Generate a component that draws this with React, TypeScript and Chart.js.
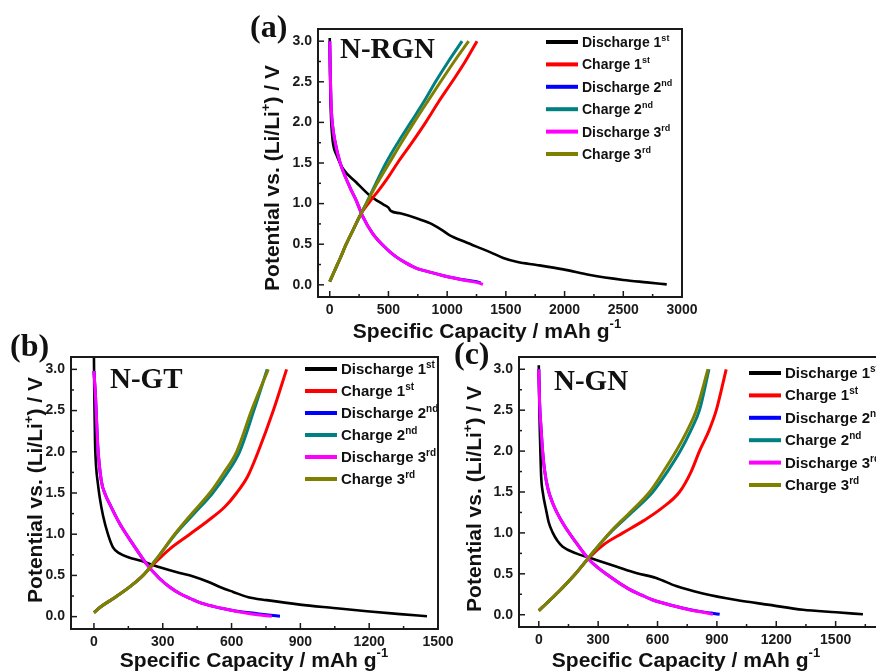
import React, { useEffect, useRef } from "react";
import { Chart, registerables } from "chart.js";

Chart.register(...registerables);

// ---------- shared ----------
const SERIES_LABELS = ["Discharge 1", "Charge 1", "Discharge 2", "Charge 2", "Discharge 3", "Charge 3"];
const SERIES_SUPS = ["st", "st", "nd", "nd", "rd", "rd"];
const SERIES_COLORS = ["#000000", "#ff0000", "#0000ff", "#008080", "#ff00ff", "#808000"];

const Y_TICKS = [0, 0.5, 1.0, 1.5, 2.0, 2.5, 3.0];
const A_X_TICKS = [0, 500, 1000, 1500, 2000, 2500, 3000];
const B_X_TICKS = [0, 300, 600, 900, 1200, 1500];
const C_X_TICKS = [0, 300, 600, 900, 1200, 1500, 1800];

const PANEL_LABELS = ["(a)", "(b)", "(c)"];
const SAMPLE_NAMES = ["N-RGN", "N-GT", "N-GN"];

// ---------- panel (a) N-RGN ----------
const A_D1_X = [0, 3, 10, 20, 30, 57, 113, 227, 341, 455, 500, 520, 600, 739, 852, 950, 1023, 1150, 1250, 1370, 1478, 1600, 1762, 1989, 2217, 2500, 2700, 2870];
const A_D1_Y = [3.04, 2.6, 2.1, 1.85, 1.72, 1.6, 1.43, 1.26, 1.1, 0.99, 0.95, 0.91, 0.88, 0.82, 0.76, 0.68, 0.61, 0.53, 0.47, 0.4, 0.33, 0.28, 0.245, 0.19, 0.12, 0.06, 0.03, 0.005];
const A_C1_X = [0, 40, 90, 140, 200, 268, 338, 420, 500, 577, 700, 817, 930, 1042, 1150, 1254];
const A_C1_Y = [0.04, 0.17, 0.33, 0.5, 0.68, 0.88, 1.02, 1.17, 1.33, 1.5, 1.75, 2.0, 2.26, 2.5, 2.74, 3.0];
const A_D2_X = [0, 3, 6, 14, 25, 43, 85, 169, 225, 282, 366, 479, 560, 648, 745, 845, 960, 1070, 1170, 1240, 1285];
const A_D2_Y = [3.0, 2.75, 2.52, 2.15, 1.95, 1.78, 1.52, 1.21, 1.04, 0.84, 0.63, 0.45, 0.35, 0.27, 0.2, 0.16, 0.115, 0.08, 0.055, 0.04, 0.025];
const A_C2_X = [0, 40, 90, 140, 200, 268, 310, 390, 479, 580, 690, 800, 901, 1010, 1127];
const A_C2_Y = [0.04, 0.17, 0.33, 0.5, 0.68, 0.88, 1.0, 1.24, 1.5, 1.75, 2.0, 2.25, 2.5, 2.75, 3.0];
const A_D3_X = [0, 3, 6, 14, 25, 43, 85, 169, 225, 282, 366, 479, 560, 648, 745, 845, 960, 1070, 1170, 1250, 1305];
const A_D3_Y = [3.0, 2.75, 2.52, 2.15, 1.95, 1.78, 1.52, 1.21, 1.04, 0.84, 0.63, 0.45, 0.35, 0.27, 0.2, 0.16, 0.115, 0.08, 0.05, 0.03, 0.005];
const A_C3_X = [0, 40, 90, 140, 200, 268, 312, 400, 507, 610, 718, 830, 944, 1060, 1183];
const A_C3_Y = [0.04, 0.17, 0.33, 0.5, 0.68, 0.88, 1.0, 1.24, 1.5, 1.75, 2.0, 2.25, 2.5, 2.75, 3.0];

// ---------- panel (b) N-GT ----------
const B_D1_X = [0, 2, 5, 10, 17, 25, 40, 61, 83, 110, 150, 200, 287, 374, 430, 500, 549, 607, 673, 753, 898, 1044, 1190, 1335, 1452];
const B_D1_Y = [3.15, 2.6, 2.1, 1.8, 1.62, 1.45, 1.22, 1.0, 0.84, 0.77, 0.72, 0.68, 0.6, 0.53, 0.49, 0.42, 0.36, 0.3, 0.235, 0.2, 0.146, 0.105, 0.065, 0.03, 0.005];
const B_C1_X = [0, 30, 90, 160, 214, 265, 330, 418, 500, 570, 622, 670, 716, 782, 840];
const B_C1_Y = [0.05, 0.12, 0.23, 0.37, 0.5, 0.65, 0.82, 1.0, 1.17, 1.33, 1.5, 1.7, 2.0, 2.5, 3.0];
const B_D2_X = [0, 3, 7, 12, 17, 32, 50, 68, 112, 170, 229, 287, 330, 374, 420, 462, 520, 578, 640, 700, 760, 811];
const B_D2_Y = [2.98, 2.85, 2.67, 2.35, 2.06, 1.65, 1.48, 1.37, 1.13, 0.88, 0.64, 0.46, 0.36, 0.28, 0.22, 0.17, 0.125, 0.09, 0.06, 0.04, 0.02, 0.005];
const B_C2_X = [0, 30, 90, 160, 214, 270, 355, 440, 518, 580, 635, 697, 755];
const B_C2_Y = [0.05, 0.12, 0.23, 0.37, 0.5, 0.69, 1.0, 1.26, 1.5, 1.74, 2.0, 2.5, 3.0];
const B_D3_X = [0, 3, 7, 12, 17, 32, 50, 68, 112, 170, 229, 287, 330, 374, 420, 462, 520, 578, 640, 695, 740, 775];
const B_D3_Y = [2.98, 2.85, 2.67, 2.35, 2.06, 1.65, 1.48, 1.37, 1.13, 0.88, 0.64, 0.46, 0.36, 0.28, 0.22, 0.17, 0.125, 0.09, 0.055, 0.03, 0.015, 0.005];
const B_C3_X = [0, 30, 90, 160, 214, 270, 352, 430, 505, 565, 622, 687, 760];
const B_C3_Y = [0.05, 0.12, 0.23, 0.37, 0.5, 0.69, 1.0, 1.26, 1.5, 1.74, 2.0, 2.5, 3.0];

// ---------- panel (c) N-GN ----------
const C_D1_X = [0, 3, 8, 12, 20, 37, 50, 71, 95, 121, 189, 290, 391, 492, 593, 694, 829, 998, 1166, 1335, 1503, 1638];
const C_D1_Y = [3.05, 2.5, 2.0, 1.69, 1.5, 1.28, 1.13, 1.0, 0.9, 0.83, 0.75, 0.67, 0.59, 0.51, 0.45, 0.35, 0.26, 0.18, 0.12, 0.06, 0.03, 0.005];
const C_C1_X = [0, 40, 100, 189, 256, 330, 425, 530, 620, 711, 770, 812, 860, 897, 947];
const C_C1_Y = [0.05, 0.14, 0.28, 0.51, 0.7, 0.86, 1.0, 1.15, 1.3, 1.5, 1.75, 2.0, 2.25, 2.5, 3.0];
const C_D2_X = [0, 4, 12, 20, 29, 45, 71, 121, 189, 256, 357, 458, 520, 576, 640, 694, 760, 829, 870, 914];
const C_D2_Y = [3.0, 2.6, 2.26, 1.98, 1.77, 1.55, 1.36, 1.12, 0.88, 0.67, 0.47, 0.31, 0.24, 0.18, 0.135, 0.1, 0.065, 0.035, 0.02, 0.005];
const C_C2_X = [0, 40, 100, 189, 256, 360, 470, 576, 650, 715, 768, 812, 860];
const C_C2_Y = [0.05, 0.14, 0.28, 0.51, 0.71, 1.0, 1.25, 1.5, 1.75, 2.0, 2.25, 2.5, 3.0];
const C_D3_X = [0, 4, 12, 20, 29, 45, 71, 121, 189, 256, 357, 458, 520, 576, 640, 694, 760, 829, 880];
const C_D3_Y = [3.0, 2.6, 2.26, 1.98, 1.77, 1.55, 1.36, 1.12, 0.88, 0.67, 0.47, 0.31, 0.24, 0.18, 0.135, 0.1, 0.06, 0.03, 0.005];
const C_C3_X = [0, 40, 100, 189, 256, 357, 460, 560, 630, 694, 750, 796, 855];
const C_C3_Y = [0.05, 0.14, 0.28, 0.51, 0.71, 1.0, 1.25, 1.5, 1.75, 2.0, 2.25, 2.5, 3.0];

// ---------- rendering helpers ----------
const SANS = '"Liberation Sans", Arial, Helvetica, sans-serif';
const SERIF = '"Liberation Serif", "Times New Roman", Times, serif';
const INK = "#1a1a1a";

type Part = { t: string; sup?: boolean };

function drawParts(
  ctx: CanvasRenderingContext2D,
  parts: Part[],
  x: number,
  y: number,
  font: string,
  supFont: string,
  rise: number,
  align: "left" | "center"
) {
  let w = 0;
  for (const p of parts) {
    ctx.font = p.sup ? supFont : font;
    w += ctx.measureText(p.t).width;
  }
  let cx = align === "center" ? x - w / 2 : x;
  ctx.textAlign = "left";
  ctx.textBaseline = "alphabetic";
  for (const p of parts) {
    ctx.font = p.sup ? supFont : font;
    ctx.fillText(p.t, cx, p.sup ? y - rise : y);
    cx += ctx.measureText(p.t).width;
  }
}

type Spec = {
  idx: number;
  left: number;
  top: number;
  width: number;
  height: number;
  area: { l: number; t: number; r: number; b: number };
  xMin: number;
  xMax: number;
  xTicks: number[];
  xStep: number;
  series: { x: number[]; y: number[] }[];
  labelPos: [number, number];
  namePos: [number, number];
  legend: [number, number, number, number];
  xTitle: [number, number];
  yTitle: [number, number];
};

const SPECS: Spec[] = [
  {
    idx: 0, left: 230, top: 0, width: 490, height: 345,
    area: { l: 88, t: 29, r: 452, b: 297 },
    xMin: -100, xMax: 3000, xTicks: A_X_TICKS, xStep: 500,
    series: [
      { x: A_D1_X, y: A_D1_Y }, { x: A_C1_X, y: A_C1_Y }, { x: A_D2_X, y: A_D2_Y },
      { x: A_C2_X, y: A_C2_Y }, { x: A_D3_X, y: A_D3_Y }, { x: A_C3_X, y: A_C3_Y },
    ],
    labelPos: [20, 37], namePos: [110, 58], legend: [316, 42, 22.4, 14],
    xTitle: [257, 338], yTitle: [41, 178],
  },
  {
    idx: 1, left: 0, top: 330, width: 470, height: 342,
    area: { l: 71, t: 27, r: 438, b: 299 },
    xMin: -100, xMax: 1500, xTicks: B_X_TICKS, xStep: 300,
    series: [
      { x: B_D1_X, y: B_D1_Y }, { x: B_C1_X, y: B_C1_Y }, { x: B_D2_X, y: B_D2_Y },
      { x: B_C2_X, y: B_C2_Y }, { x: B_D3_X, y: B_D3_Y }, { x: B_C3_X, y: B_C3_Y },
    ],
    labelPos: [10, 26], namePos: [110, 58], legend: [305, 39, 22, 15],
    xTitle: [254, 337], yTitle: [34, 160],
  },
  {
    idx: 2, left: 440, top: 330, width: 490, height: 342,
    area: { l: 79, t: 27, r: 455, b: 297 },
    xMin: -100, xMax: 1800, xTicks: C_X_TICKS, xStep: 300,
    series: [
      { x: C_D1_X, y: C_D1_Y }, { x: C_C1_X, y: C_C1_Y }, { x: C_D2_X, y: C_D2_Y },
      { x: C_C2_X, y: C_C2_Y }, { x: C_D3_X, y: C_D3_Y }, { x: C_C3_X, y: C_C3_Y },
    ],
    labelPos: [14, 34], namePos: [114, 60], legend: [309, 43, 22.4, 15],
    xTitle: [246, 337], yTitle: [33, 169],
  },
];

function makeConfig(spec: Spec): any {
  const { area, width, height } = spec;
  const datasets = spec.series.map((s, i) => ({
    label: SERIES_LABELS[i] + SERIES_SUPS[i],
    data: s.x.map((x, k) => ({ x, y: s.y[k] })),
    borderColor: SERIES_COLORS[i],
    backgroundColor: SERIES_COLORS[i],
    borderWidth: i === 0 ? 2.6 : 3,
    pointRadius: 0,
    pointHoverRadius: 0,
    cubicInterpolationMode: "monotone",
    fill: false,
    order: 5 - i,
  }));

  const decor = {
    id: "decor",
    afterDraw(chart: any) {
      const ctx: CanvasRenderingContext2D = chart.ctx;
      const a = chart.chartArea;
      const xs = chart.scales.x;
      const ys = chart.scales.y;
      ctx.save();
      ctx.strokeStyle = INK;
      ctx.fillStyle = INK;
      ctx.lineWidth = 1.5;
      const line = (x1: number, y1: number, x2: number, y2: number) => {
        ctx.beginPath();
        ctx.moveTo(x1, y1);
        ctx.lineTo(x2, y2);
        ctx.stroke();
      };
      for (const v of spec.xTicks) {
        const px = xs.getPixelForValue(v);
        if (px > a.left && px < a.right - 1) line(px, a.bottom, px, a.bottom - 6);
        const pm = xs.getPixelForValue(v + spec.xStep / 2);
        if (pm > a.left && pm < a.right - 1) line(pm, a.bottom, pm, a.bottom - 3);
      }
      for (const v of Y_TICKS) {
        const py = ys.getPixelForValue(v);
        if (py > a.top && py < a.bottom) line(a.left, py, a.left + 6, py);
        const pm = ys.getPixelForValue(v + 0.25);
        if (pm > a.top + 1 && pm < a.bottom) line(a.left, pm, a.left + 3, pm);
      }
      ctx.lineWidth = 2;
      ctx.strokeRect(a.left, a.top, a.right - a.left, a.bottom - a.top);

      ctx.fillStyle = "#111";
      ctx.textAlign = "left";
      ctx.textBaseline = "alphabetic";
      ctx.font = `bold 32px ${SERIF}`;
      ctx.fillText(PANEL_LABELS[spec.idx], spec.labelPos[0], spec.labelPos[1]);
      ctx.font = `bold 29px ${SERIF}`;
      ctx.fillText(SAMPLE_NAMES[spec.idx], spec.namePos[0], spec.namePos[1]);

      const [lx, ly, step, fs] = spec.legend;
      for (let i = 0; i < SERIES_LABELS.length; i++) {
        const y = ly + i * step;
        ctx.strokeStyle = SERIES_COLORS[i];
        ctx.lineWidth = 4;
        line(lx, y, lx + 32, y);
        ctx.fillStyle = "#111";
        drawParts(
          ctx,
          [{ t: SERIES_LABELS[i] }, { t: SERIES_SUPS[i], sup: true }],
          lx + 36,
          y + 5,
          `bold ${fs}px ${SANS}`,
          `bold ${Math.round(fs * 0.64)}px ${SANS}`,
          6,
          "left"
        );
      }

      ctx.fillStyle = "#111";
      drawParts(
        ctx,
        [{ t: "Specific Capacity / mAh g" }, { t: "-1", sup: true }],
        spec.xTitle[0],
        spec.xTitle[1],
        `bold 21px ${SANS}`,
        `bold 13px ${SANS}`,
        10,
        "center"
      );
      ctx.save();
      ctx.translate(spec.yTitle[0], spec.yTitle[1]);
      ctx.rotate(-Math.PI / 2);
      drawParts(
        ctx,
        [{ t: "Potential vs. (Li/Li" }, { t: "+", sup: true }, { t: ") / V" }],
        0,
        7.5,
        `bold 21px ${SANS}`,
        `bold 13px ${SANS}`,
        9,
        "center"
      );
      ctx.restore();
      ctx.restore();
    },
  };

  return {
    type: "line",
    data: { datasets },
    options: {
      responsive: false,
      maintainAspectRatio: false,
      devicePixelRatio: 1,
      animation: false,
      events: [],
      layout: { padding: { left: 0, top: area.t, right: width - area.r, bottom: 0 } },
      plugins: { legend: { display: false }, tooltip: { enabled: false }, title: { display: false } },
      scales: {
        x: {
          type: "linear",
          position: "bottom",
          min: spec.xMin,
          max: spec.xMax,
          grid: { display: false, drawTicks: false },
          border: { display: false },
          afterBuildTicks: (s: any) => {
            s.ticks = spec.xTicks.map((v) => ({ value: v }));
          },
          afterFit: (s: any) => {
            s.height = height - area.b;
          },
          ticks: {
            autoSkip: false,
            maxRotation: 0,
            padding: 5,
            color: INK,
            font: { family: SANS, size: 14, weight: "bold" },
            callback: (v: any) => String(v),
          },
        },
        y: {
          type: "linear",
          position: "left",
          min: -0.15,
          max: 3.15,
          grid: { display: false, drawTicks: false },
          border: { display: false },
          afterBuildTicks: (s: any) => {
            s.ticks = Y_TICKS.map((v) => ({ value: v }));
          },
          afterFit: (s: any) => {
            s.width = area.l;
          },
          ticks: {
            autoSkip: false,
            padding: 6,
            color: INK,
            font: { family: SANS, size: 14, weight: "bold" },
            callback: (v: any) => Number(v).toFixed(1),
          },
        },
      },
    },
    plugins: [decor],
  };
}

function Panel({ spec }: { spec: Spec }) {
  const ref = useRef<HTMLCanvasElement>(null);
  useEffect(() => {
    const chart = new Chart(ref.current as HTMLCanvasElement, makeConfig(spec));
    return () => chart.destroy();
  }, [spec]);
  return (
    <canvas
      ref={ref}
      width={spec.width}
      height={spec.height}
      style={{
        position: "absolute",
        left: spec.left,
        top: spec.top,
        width: spec.width,
        height: spec.height,
      }}
    />
  );
}

export default function App() {
  return (
    <div
      style={{
        position: "absolute",
        left: 0,
        top: 0,
        width: 876,
        height: 672,
        overflow: "hidden",
        background: "#ffffff",
      }}
    >
      {SPECS.map((s) => (
        <Panel key={s.idx} spec={s} />
      ))}
    </div>
  );
}
